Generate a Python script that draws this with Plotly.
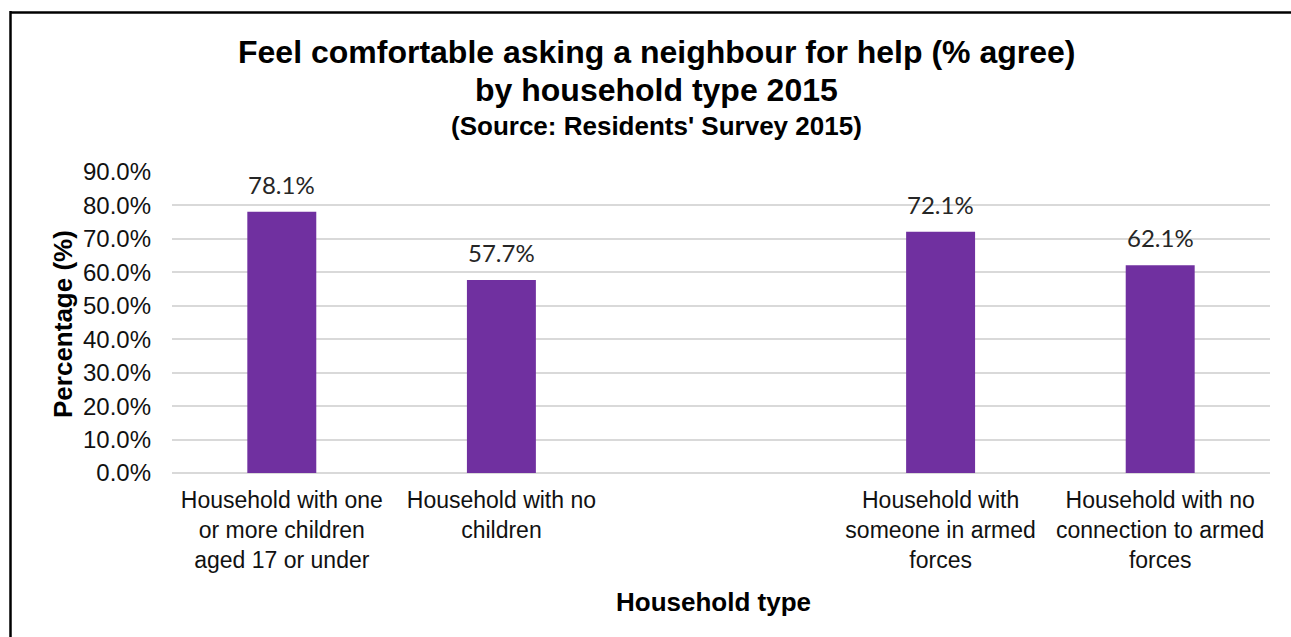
import plotly.graph_objects as go

# Household types (the empty slot separates the two groupings)
categories = [
    "Household with one<br>or more children<br>aged 17 or under",
    "Household with no<br>children",
    "",
    "Household with<br>someone in armed<br>forces",
    "Household with no<br>connection to armed<br>forces",
]
agree_pct = [78.1, 57.7, None, 72.1, 62.1]
y_ticks = [0, 10, 20, 30, 40, 50, 60, 70, 80, 90]
y_tick_labels = [f"{v:.1f}%" for v in y_ticks]

positions = list(range(len(categories)))

W, H = 1291, 637
L, R, T, B = 172, 21, 172, 164

fig = go.Figure(
    go.Bar(
        x=positions,
        y=agree_pct,
        marker=dict(color="#7030A0", line=dict(width=0)),
        hoverinfo="skip",
    )
)

fig.update_layout(
    width=W,
    height=H,
    margin=dict(l=L, r=R, t=T, b=B),
    paper_bgcolor="white",
    plot_bgcolor="white",
    bargap=0.686,
    showlegend=False,
    font=dict(family="Liberation Sans, Arial", color="#111111"),
)

fig.update_xaxes(
    range=[-0.5, 4.5],
    tickmode="array",
    tickvals=positions,
    ticktext=categories,
    tickfont=dict(size=23, color="#111111"),
    showgrid=False,
    showline=False,
    ticks="",
    zeroline=False,
    ticklabelstandoff=11,
)

fig.update_yaxes(
    range=[0, 90],
    tickmode="array",
    tickvals=y_ticks,
    ticktext=y_tick_labels,
    tickfont=dict(size=24, color="#111111"),
    showgrid=True,
    gridcolor="#D9D9D9",
    gridwidth=1.5,
    zeroline=True,
    zerolinecolor="#D9D9D9",
    zerolinewidth=1.5,
    showline=False,
    ticks="",
    ticklabelstandoff=20,
)


def px_x(x):
    return (x - L) / (W - L - R)


def px_y(y):
    return (H - B - y) / (H - T - B)


annotations = []

# Value labels above each bar
for pos, val in zip(positions, agree_pct):
    if val is None:
        continue
    annotations.append(dict(
        text=f"{val:.1f}%", x=pos, y=val, xref="x", yref="y",
        xanchor="center", yanchor="bottom", yshift=11, showarrow=False,
        font=dict(family="Lato", size=24, color="#262626"),
    ))

title_cx = px_x(656)
text_items = [
    dict(text="<b>Feel comfortable asking a neighbour for help (% agree)</b>",
         x=title_cx, y=px_y(52), font=dict(size=32, color="#000000")),
    dict(text="<b>by household type 2015</b>",
         x=title_cx, y=px_y(90), font=dict(size=32, color="#000000")),
    dict(text="<b>(Source: Residents' Survey 2015)</b>",
         x=title_cx, y=px_y(126), font=dict(size=26, color="#000000")),
    dict(text="<b>Household type</b>",
         x=px_x(713), y=px_y(602), font=dict(size=26, color="#000000")),
    dict(text="<b>Percentage (%)</b>",
         x=px_x(63), y=px_y(324), textangle=-90, font=dict(size=26, color="#000000")),
]
for a in text_items:
    a.update(xref="paper", yref="paper", showarrow=False,
             xanchor="center", yanchor="middle")
annotations.extend(text_items)
fig.update_layout(annotations=annotations)

# Chart frame along the top and left edges
fig.add_shape(type="line", xref="paper", yref="paper",
              x0=px_x(11), x1=px_x(W + 5), y0=px_y(12.5), y1=px_y(12.5),
              line=dict(color="#000000", width=2.5))
fig.add_shape(type="line", xref="paper", yref="paper",
              x0=px_x(10.5), x1=px_x(10.5), y0=px_y(11), y1=px_y(H + 5),
              line=dict(color="#000000", width=2.5))

fig.write_html("out.html")
